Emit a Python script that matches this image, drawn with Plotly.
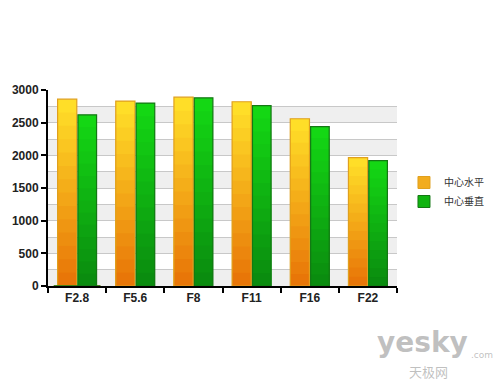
import plotly.graph_objects as go

categories = ["F2.8", "F5.6", "F8", "F11", "F16", "F22"]
horizontal = [2860, 2830, 2890, 2820, 2560, 1965]   # 中心水平
vertical = [2620, 2800, 2880, 2760, 2440, 1920]     # 中心垂直
series_names = ["中心水平", "中心垂直"]


def lerp(c1, c2, t):
    return "rgb(%d,%d,%d)" % tuple(round(a + (b - a) * t) for a, b in zip(c1, c2))


styles = [
    dict(top=(255, 222, 40), bottom=(232, 118, 8), line="rgb(224,160,30)",
         legend="rgb(242,172,30)", offset=-0.335, width=0.33),
    dict(top=(20, 215, 20), bottom=(10, 140, 15), line="rgb(20,120,20)",
         legend="rgb(16,180,16)", offset=0.015, width=0.32),
]

fig = go.Figure()
N = 14
for name, vals, st in zip(series_names, [horizontal, vertical], styles):
    for i in range(N):
        k = 1 - i / N
        fig.add_trace(go.Bar(
            x=categories, y=[v * k for v in vals],
            offset=st["offset"], width=st["width"],
            marker=dict(color=lerp(st["top"], st["bottom"], i / (N - 1)), line=dict(width=0)),
            showlegend=False, hoverinfo="skip",
        ))
    fig.add_trace(go.Bar(
        x=categories, y=vals, name=name,
        offset=st["offset"], width=st["width"],
        marker=dict(color="rgba(0,0,0,0)", line=dict(color=st["line"], width=1.2)),
        showlegend=False,
    ))
    # legend entry
    fig.add_trace(go.Bar(
        x=[categories[0]], y=[0], name=name,
        marker=dict(color=st["legend"], line=dict(color=st["line"], width=1)),
        showlegend=True,
    ))

shapes = []
for lo in range(0, 3000, 500):
    shapes.append(dict(type="rect", xref="paper", yref="y", x0=0, x1=1, y0=lo, y1=lo + 250,
                       fillcolor="#efefef", line=dict(width=0), layer="below"))

fig.update_layout(
    width=500, height=387,
    margin=dict(l=48, r=103, t=90, b=101, autoexpand=False),
    paper_bgcolor="white", plot_bgcolor="white",
    barmode="overlay",
    shapes=shapes,
    showlegend=True,
    legend=dict(x=1.02, y=(286 - 192) / 196, xanchor="left", yanchor="middle",
                font=dict(family="Noto Sans CJK SC", size=10, color="#333333"),
                itemwidth=30, tracegroupgap=0, bgcolor="rgba(0,0,0,0)"),
    font=dict(family="Liberation Sans", color="#222222"),
    xaxis=dict(type="category", tickson="boundaries", showline=True, linecolor="black",
               linewidth=2, ticks="outside", ticklen=5, tickcolor="black", tickwidth=2,
               tickfont=dict(family="Liberation Sans", size=12, color="#222222", weight="bold"),
               showgrid=False, range=[-0.5, 5.5]),
    yaxis=dict(range=[0, 3000], dtick=500, showline=True, linecolor="black", linewidth=2,
               ticks="outside", ticklen=5, tickcolor="black", tickwidth=2,
               tickfont=dict(family="Liberation Sans", size=12, color="#222222", weight="bold"),
               showgrid=True, gridcolor="#c8c8c8", gridwidth=1,
               minor=dict(dtick=250, showgrid=True, gridcolor="#c8c8c8", gridwidth=1),
               zeroline=False),
    annotations=[
        dict(text="<b>yesky</b>", xref="paper", yref="paper", x=1.209, y=(286 - 342) / 196,
             showarrow=False,
             font=dict(family="DejaVu Sans", size=28, color="rgba(150,150,150,0.6)"),
             xanchor="right", yanchor="middle"),
        dict(text=".com", xref="paper", yref="paper", x=1.205, y=(286 - 355) / 196, showarrow=False,
             font=dict(family="DejaVu Sans", size=9, color="rgba(150,150,150,0.6)"),
             xanchor="left", yanchor="middle"),
        dict(text="天极网", xref="paper", yref="paper", x=1.09, y=(286 - 371) / 196, showarrow=False,
             font=dict(family="Noto Sans CJK SC", size=13, color="rgba(150,150,150,0.6)"),
             xanchor="center", yanchor="middle"),
    ],
)

fig.write_html("out.html")
